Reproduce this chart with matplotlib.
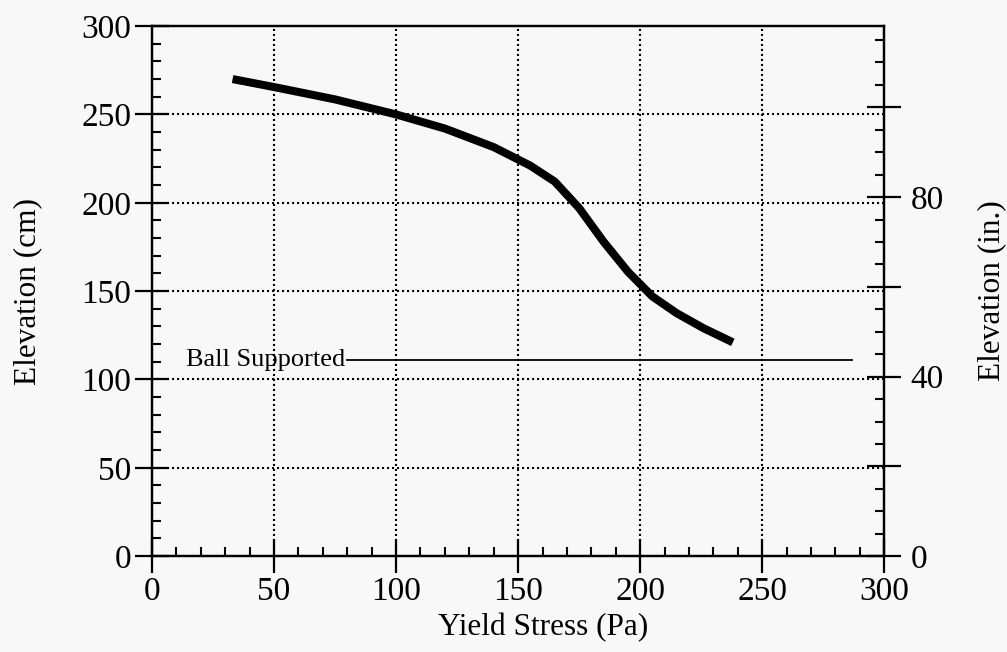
import numpy as np
import matplotlib.pyplot as plt
from matplotlib.ticker import MultipleLocator, FuncFormatter

# Elevation at which the ball stops vs. yield stress of the material
yield_stress = [33, 50, 75, 100, 120, 140, 155, 165, 175, 185, 195, 205, 215, 226, 238]
elevation_cm = [270, 265.5, 258.5, 250, 242, 231.5, 221, 212, 197, 178, 161, 147, 137.5, 129, 121]

# Level at which the ball is supported
ball_level = 111
ball_line_x = [80, 287]

CM_PER_IN = 2.54

plt.rcParams['font.family'] = ['Liberation Serif', 'DejaVu Serif']

fig = plt.figure(figsize=(10.07, 6.52), dpi=100, facecolor='#f8f8f8')
ax = fig.add_axes([0.151, 0.147, 0.727, 0.813])
ax.set_facecolor('#f8f8f8')

ax.plot(yield_stress, elevation_cm, color='black', lw=5.8,
        solid_capstyle='butt', solid_joinstyle='round', zorder=5)

ax.plot(ball_line_x, [ball_level, ball_level], color='black', lw=1.3, zorder=4)
ax.text(14, ball_level, 'Ball Supported', fontsize=19, va='center', ha='left', zorder=4)

ax.set_xlim(0, 300)
ax.set_ylim(0, 300)
ax.xaxis.set_major_locator(MultipleLocator(50))
ax.xaxis.set_minor_locator(MultipleLocator(10))
ax.yaxis.set_major_locator(MultipleLocator(50))
ax.yaxis.set_minor_locator(MultipleLocator(10))

ax.grid(which='major', color='black', linestyle=(0, (1, 1.4)), lw=1.5)

for s in ax.spines.values():
    s.set_linewidth(1.6)

ax.tick_params(which='major', direction='inout', length=24, width=1.6,
               labelsize=24, pad=3, top=False, right=False)
ax.tick_params(which='minor', direction='in', length=6.5, width=1.5,
               top=False, right=False)

ax.set_xlabel('Yield Stress (Pa)', fontsize=22.5)
ax.set_ylabel('Elevation (cm)', fontsize=22.5)
ax.xaxis.set_label_coords(0.534, -0.108)
ax.yaxis.set_label_coords(-0.15, 0.5)

# right hand axis in inches
ax2 = ax.twinx()
ax2.set_ylim(0, 300 / CM_PER_IN)
ax2.yaxis.set_major_locator(MultipleLocator(20))
ax2.yaxis.set_minor_locator(MultipleLocator(5))
ax2.yaxis.set_major_formatter(FuncFormatter(lambda v, p: f'{v:.0f}' if round(v) % 40 == 0 else ''))
ax2.tick_params(which='major', direction='inout', length=24, width=1.6,
                labelsize=24, pad=7)
ax2.tick_params(which='minor', direction='in', length=6.5, width=1.5)
for s in ax2.spines.values():
    s.set_linewidth(1.6)
ax2.set_ylabel('Elevation (in.)', fontsize=22.5, rotation=90)
ax2.yaxis.set_label_coords(1.127, 0.5)

fig.savefig('out.png', dpi=100, facecolor=fig.get_facecolor())
